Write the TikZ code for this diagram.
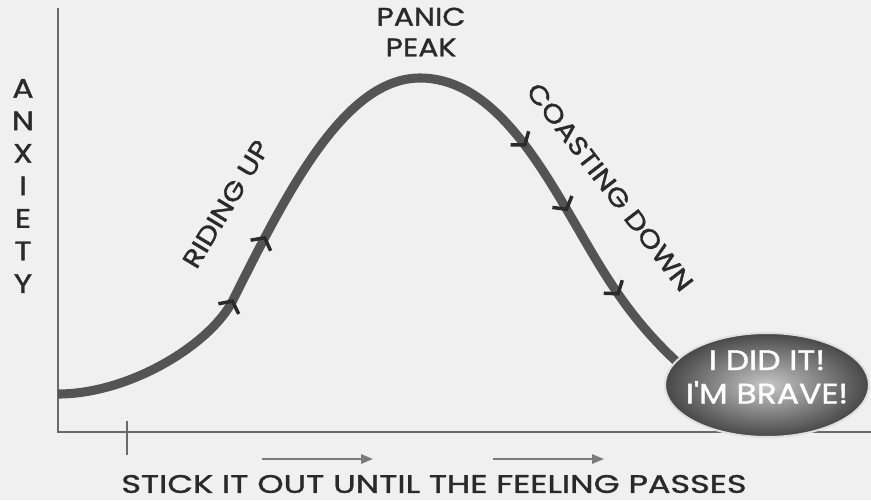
\documentclass[tikz,border=0pt]{standalone}
\usepackage{fontspec}
\setmainfont{Poppins}
\newfontfamily\comic{Poppins}[FakeBold=1.4,FakeStretch=1.18]
\newfontfamily\comicwide{Poppins}[FakeBold=1.4,FakeStretch=1.32]
\usetikzlibrary{arrows.meta,decorations.markings,shapes.geometric}
\definecolor{bgcol}{HTML}{F0F0F0}
\definecolor{curvecol}{HTML}{545454}
\definecolor{axiscol}{HTML}{6A6A6A}
\definecolor{textcol}{HTML}{2A2A2A}
\definecolor{arrowcol}{HTML}{7A7A7A}
\begin{document}
\begin{tikzpicture}[x=0.75pt,y=-0.75pt,
  axisline/.style={draw=axiscol,line width=2.2pt},
  curveline/.style={draw=curvecol,line width=6.8pt},
  barb/.tip={Straight Barb[length=6.5pt,width=17pt,line width=2.6pt]},
  label/.style={text=textcol,font=\comic\fontsize{19}{23}\selectfont,inner sep=0pt},
  passarrow/.style={draw=arrowcol,line width=1.5pt,-{Triangle[length=9pt,width=7pt]}}
]
\useasboundingbox (0,0) rectangle (871,500);
\fill[bgcol] (0,0) rectangle (871,500);
% axes
\coordinate (ytop) at (58,8);
\coordinate (origin) at (58,432);
\coordinate (xend) at (871,432);
\coordinate (tickt) at (127,421);
\coordinate (tickb) at (127,455);
\draw[axisline] (ytop) -- (origin) -- (xend);
\draw[axisline] (tickt) -- (tickb);
% curve
\coordinate (c0) at (58,394);
\coordinate (c1) at (233,300);
\coordinate (peak) at (420,78);
\coordinate (c3) at (567,210);
\coordinate (c4) at (700,382);
\draw[curveline, postaction={decorate},
  decoration={markings,
    mark=at position 0.222 with {\arrow[textcol]{barb}},
    mark=at position 0.298 with {\arrow[textcol]{barb}},
    mark=at position 0.685 with {\arrow[textcol]{barb}},
    mark=at position 0.767 with {\arrow[textcol]{barb}},
    mark=at position 0.873 with {\arrow[textcol]{barb}}}]
  (c0) .. controls (130,394) and (211,344) .. (c1)
       .. controls (288,190) and (345,78) .. (peak)
       .. controls (485,78) and (530,147) .. (c3)
       .. controls (604,273) and (630,325) .. (c4);
% ellipse
\shade[inner color=black!22, outer color=black!72, draw=black!12, line width=1.5pt]
  (767,385) ellipse [x radius=102, y radius=52];
\node[text=white,font=\comic\fontsize{21}{25}\selectfont,align=center,inner sep=0pt] (brave) at (767,377) {I DID IT!\\I'M BRAVE!};
% labels
\node[label,align=center] (panic) at (421,32) {PANIC\\PEAK};
\node[label,align=center,font=\comic\fontsize{20}{24.4}\selectfont] (anx) at (23,186) {A\\N\\X\\I\\E\\T\\Y};
\node[label,rotate=59] (riding) at (226,204) {RIDING UP};
\node[label,rotate=-52.4] (coast) at (610,187) {COASTING DOWN};
\node[label,font=\comicwide\fontsize{19}{23}\selectfont] (stick) at (434,484) {STICK IT OUT UNTIL THE FEELING PASSES};
% passing arrows
\coordinate (a1s) at (262,459);
\coordinate (a1e) at (373,459);
\coordinate (a2s) at (493,459);
\coordinate (a2e) at (604,459);
\draw[passarrow] (a1s) -- (a1e);
\draw[passarrow] (a2s) -- (a2e);
\end{tikzpicture}
\end{document}
